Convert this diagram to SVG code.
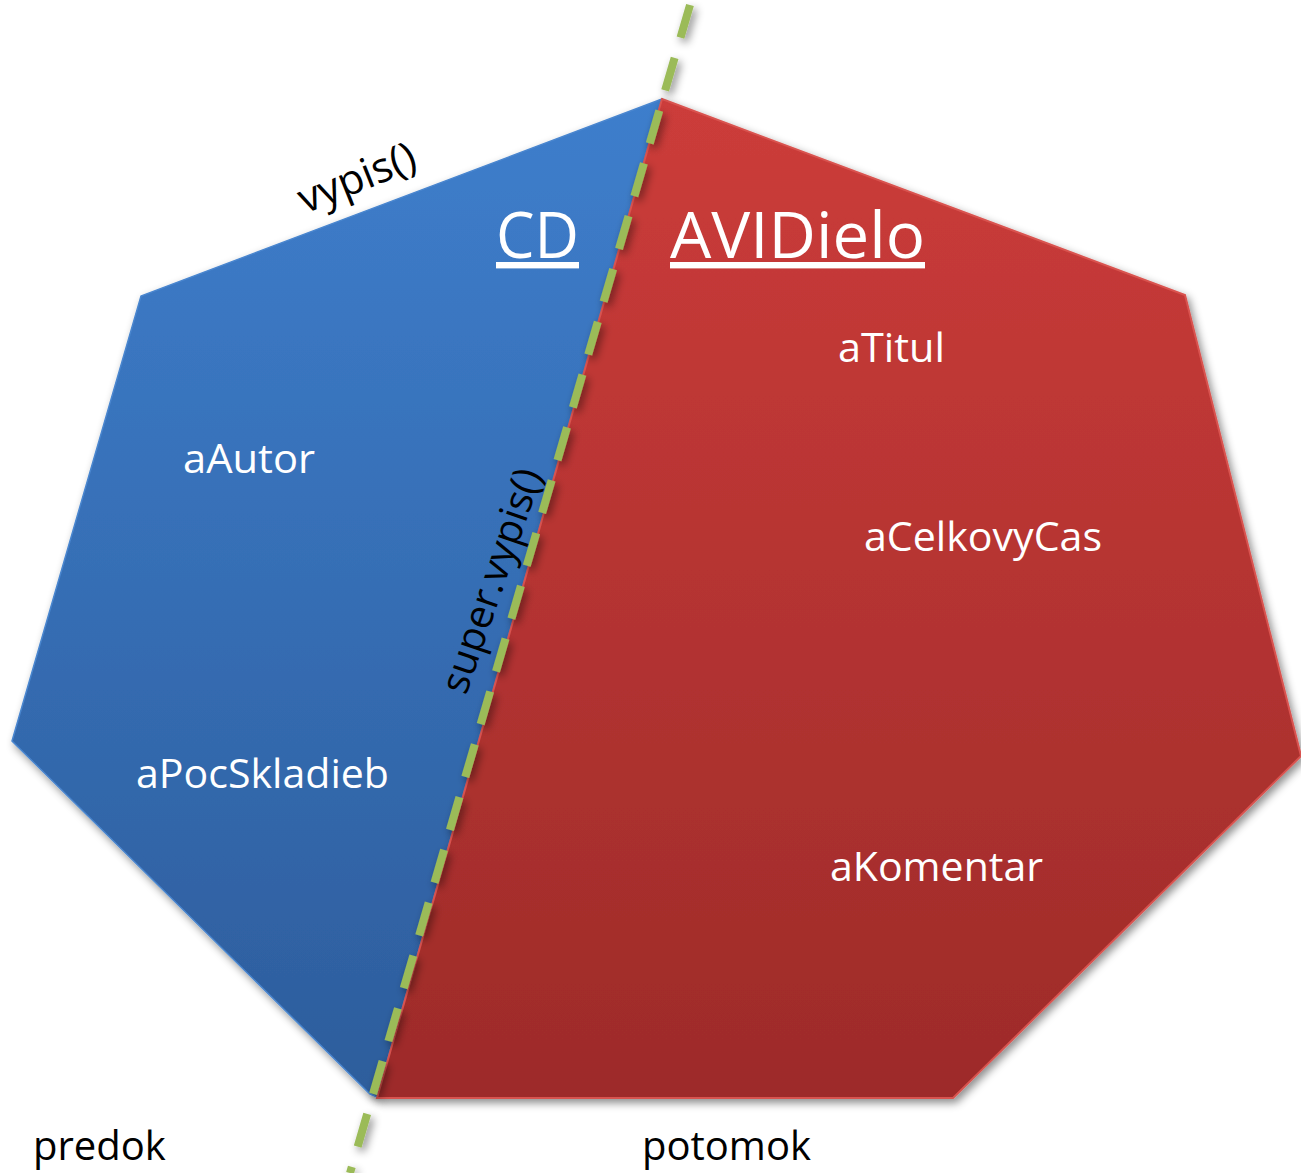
<svg xmlns="http://www.w3.org/2000/svg" width="1301" height="1173" viewBox="0 0 1301 1173">
<style>
.lbl{font-family:"Open Sans","Liberation Sans",sans-serif;font-size:41px;fill:#ffffff}
.ttl{font-family:"Open Sans","Liberation Sans",sans-serif;font-size:64px;fill:#ffffff;text-decoration:underline}
.blk{font-family:"Open Sans","Liberation Sans",sans-serif;font-size:40px;fill:#000000}
</style>
<defs>
<linearGradient id="gb" x1="0" y1="0" x2="0" y2="1">
<stop offset="0" stop-color="#3e7ecc"/>
<stop offset="1" stop-color="#2d5d9c"/>
</linearGradient>
<linearGradient id="gr" x1="0" y1="0" x2="0" y2="1">
<stop offset="0" stop-color="#cc3c3a"/>
<stop offset="1" stop-color="#9d2b29"/>
</linearGradient>
<filter id="sh" x="-5%" y="-5%" width="115%" height="115%">
<feDropShadow dx="3" dy="4" stdDeviation="4" flood-color="#000" flood-opacity="0.45"/>
</filter>
</defs>
<g id="cd">
<polygon points="662,99 141,296 12,741 370,1094 377,1097" fill="url(#gb)" stroke="#4a86cf" stroke-width="1.5" filter="url(#sh)"/>
<text class="ttl" x="496" y="258" textLength="83" lengthAdjust="spacingAndGlyphs">CD</text>
<text class="lbl" x="183" y="473" textLength="132" lengthAdjust="spacingAndGlyphs">aAutor</text>
<text class="lbl" x="136" y="788" textLength="253" lengthAdjust="spacingAndGlyphs">aPocSkladieb</text>
</g>
<g id="avidielo">
<polygon points="662,99 1185,295 1301,756 953,1098 377,1098" fill="url(#gr)" stroke="#d9534f" stroke-width="2" filter="url(#sh)"/>
<text class="ttl" x="670" y="258" textLength="255" lengthAdjust="spacingAndGlyphs">AVIDielo</text>
<text class="lbl" x="838" y="362" textLength="107" lengthAdjust="spacingAndGlyphs">aTitul</text>
<text class="lbl" x="864" y="551" textLength="238" lengthAdjust="spacingAndGlyphs">aCelkovyCas</text>
<text class="lbl" x="830" y="881" textLength="213" lengthAdjust="spacingAndGlyphs">aKomentar</text>
</g>
<g id="connectors">
<line x1="690" y1="5" x2="350" y2="1173" stroke="#9bbb59" stroke-width="8" stroke-dasharray="34,21" filter="url(#sh)"/>
</g>
<g id="labels">
<text class="blk" x="305" y="214" transform="rotate(-22 305 214)" style="font-size:42px">vypis()</text>
<text class="blk" x="466" y="696" transform="rotate(-71 466 696)" style="font-size:40px">super.vypis()</text>
<text class="blk" x="33" y="1160" style="font-size:40px">predok</text>
<text class="blk" x="642" y="1160" style="font-size:40px">potomok</text>
</g>
</svg>
